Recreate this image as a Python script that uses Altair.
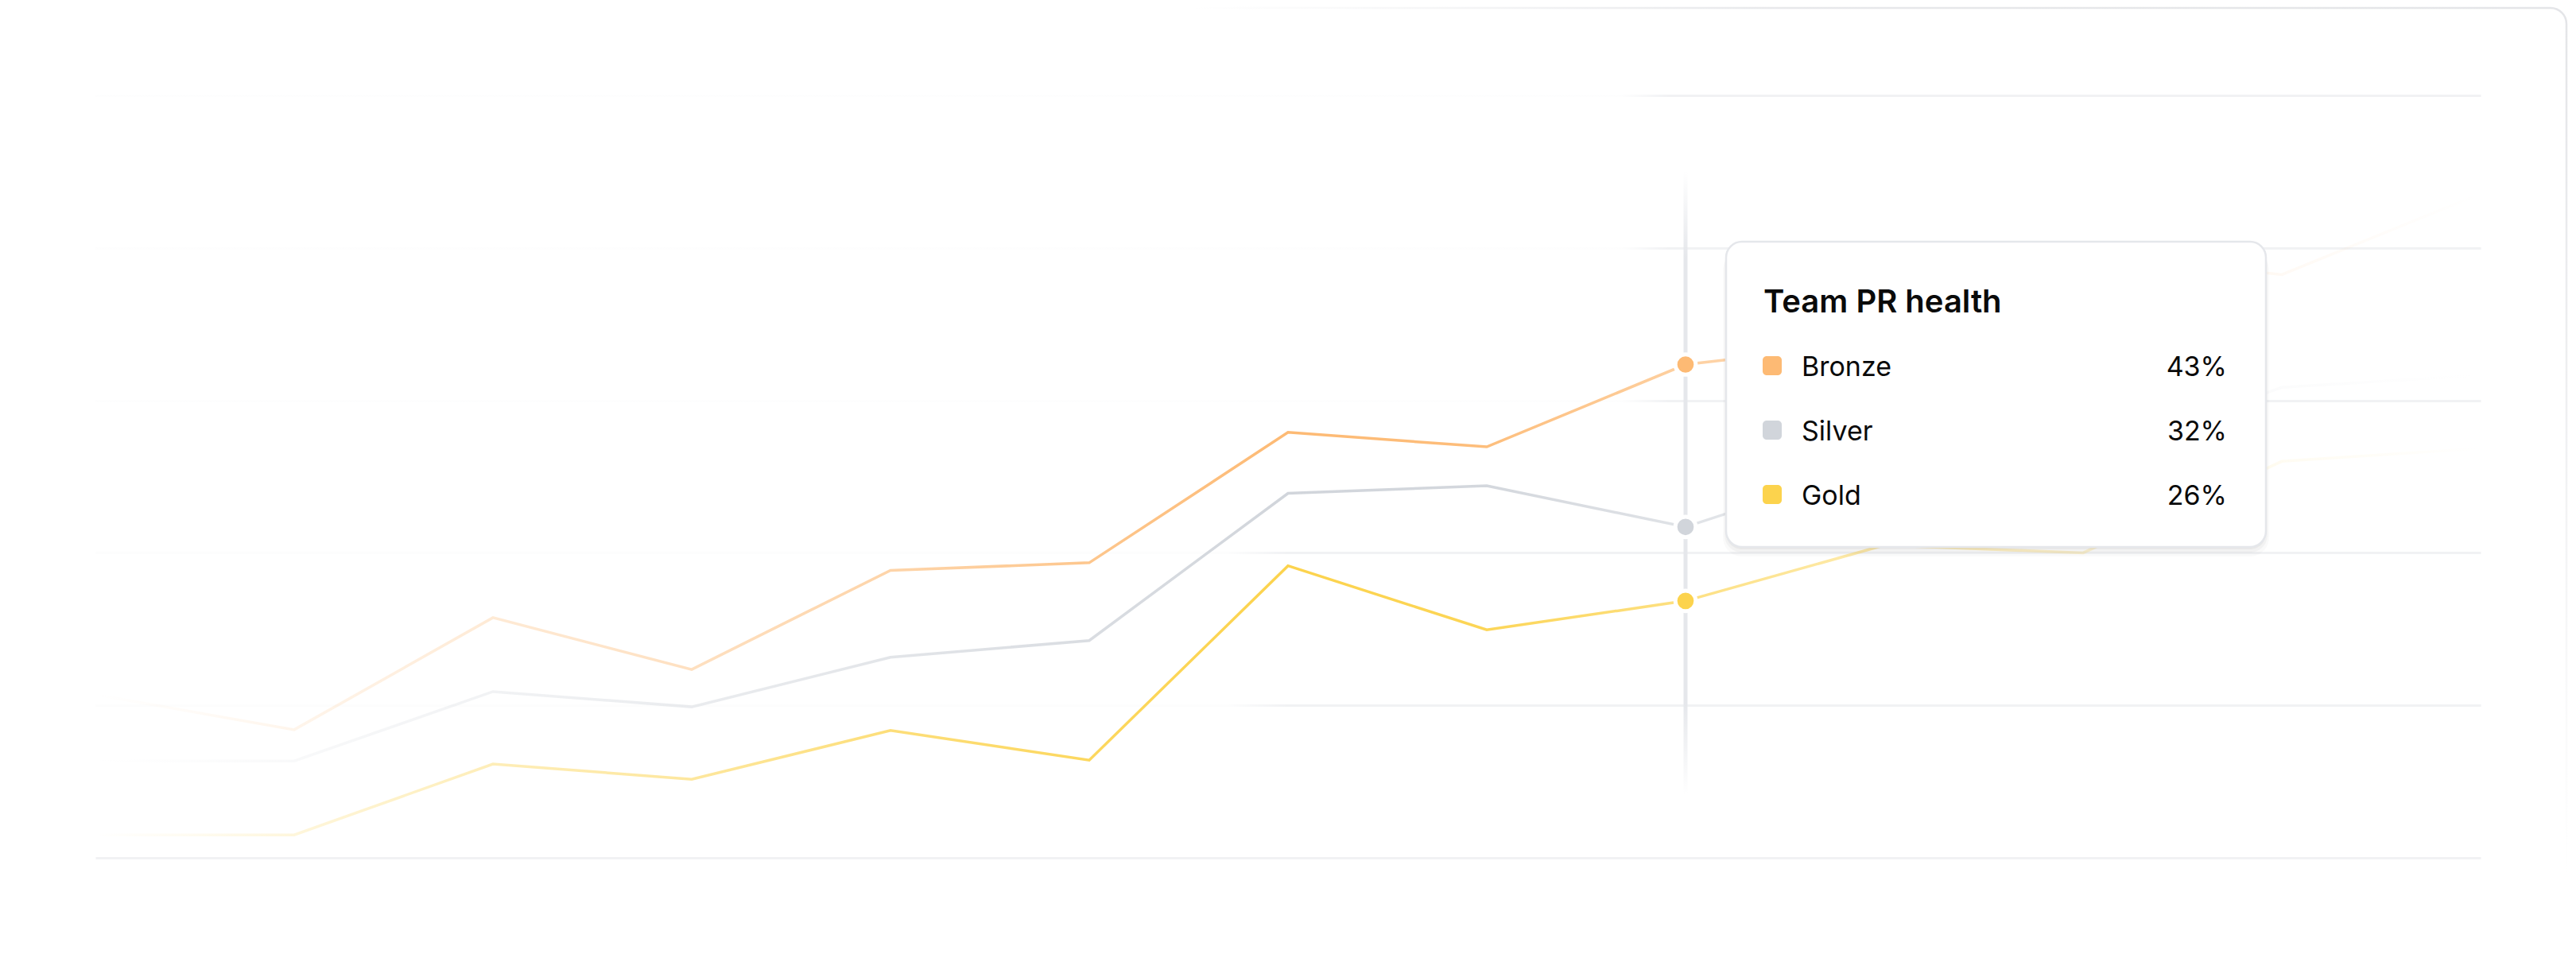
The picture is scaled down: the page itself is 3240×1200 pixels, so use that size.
import altair as alt
import pandas as pd

# ---------------- data ----------------
periods = list(range(13))
series_names = ["Bronze", "Silver", "Gold"]
bronze = [21.4, 16.8, 31.5, 24.7, 37.7, 38.7, 55.8, 53.9, 64.7, 67.7, 79.4, 76.5, 87.1]
silver = [12.7, 12.7, 21.8, 19.8, 26.3, 28.5, 47.8, 48.8, 43.4, 51.9, 52.6, 61.7, 63.3]
gold = [3.0, 3.0, 12.3, 10.3, 16.7, 12.8, 38.3, 29.9, 33.7, 41.0, 40.0, 52.0, 53.7]
series_colors = ["#fdba74", "#d1d5db", "#fcd34d"]
tooltip_title = "Team PR health"
tooltip_pct = ["43%", "32%", "26%"]
hover_index = 8
grid_values = [0, 20, 40, 60, 80, 100]

rows = []
for name, vals in zip(series_names, [bronze, silver, gold]):
    for p, v in zip(periods, vals):
        rows.append({"period": p, "series": name, "value": v})
df = pd.DataFrame(rows)
one = pd.DataFrame({"_": [0]})

W, H = 3000, 959
FONT = "Inter"
INK = "#0a0a0a"


def rgba(hex_color, a):
    r, g, b = int(hex_color[1:3], 16), int(hex_color[3:5], 16), int(hex_color[5:7], 16)
    return f"rgba({r},{g},{b},{a})"


def grad(hex_color, stops, vertical=False):
    return alt.LinearGradient(
        gradient="linear",
        stops=[alt.GradientStop(color=rgba(hex_color, a), offset=o) for o, a in stops],
        x1=0, y1=0, x2=0 if vertical else 1, y2=1 if vertical else 0,
    )


fade_soft = [(0, 0), (0.04, 0.05), (0.083, 0.14), (0.167, 0.3), (0.25, 0.45), (0.333, 0.62),
             (0.417, 0.82), (0.5, 1), (0.58, 0.95), (0.667, 0.68), (0.75, 0.45), (0.833, 0.25),
             (0.92, 0.07), (1, 0)]
fade_strong = [(0, 0), (0.04, 0.08), (0.083, 0.2), (0.167, 0.4), (0.25, 0.55), (0.333, 0.75),
               (0.417, 0.9), (0.5, 1), (0.58, 0.95), (0.667, 0.7), (0.75, 0.45), (0.833, 0.25),
               (0.92, 0.07), (1, 0)]

x_scale = alt.Scale(domain=[0, 12], nice=False, zero=False)
x_enc = alt.X("period:Q", scale=x_scale, axis=None)
y_enc = alt.Y(
    "value:Q",
    scale=alt.Scale(domain=[0, 100], nice=False, zero=True),
    axis=alt.Axis(values=grid_values, grid=True, gridColor="#f1f2f4", gridWidth=3,
                  labels=False, ticks=False, domain=False, title=None),
)

layers = []

# card frame (top edge, corner, right edge)
layers.append(
    alt.Chart(one).mark_rect(
        fill=grad("#e4e5e8", [(0, 0), (0.45, 0.9), (1, 1)])
    ).encode(x=alt.value(1380), x2=alt.value(3088), y=alt.value(-111.25), y2=alt.value(-108.75))
)
layers.append(
    alt.Chart(one).mark_arc(radius=21.25, radius2=18.75, theta=0, theta2=1.5708, color="#e4e5e8")
    .encode(x=alt.value(3088), y=alt.value(-90))
)
layers.append(
    alt.Chart(one).mark_rect(
        fill=grad("#e4e5e8", [(0, 1), (0.45, 0.6), (1, 0)], vertical=True)
    ).encode(x=alt.value(3106.75), x2=alt.value(3109.25), y=alt.value(-90), y2=alt.value(980))
)

# soft white veils fading the grid toward the left
layers.append(
    alt.Chart(one).mark_rect(
        fill=grad("#ffffff", [(0, 0.9), (0.97, 0.9), (1, 0)])
    ).encode(x=alt.value(-20), x2=alt.value(1980), y=alt.value(-30), y2=alt.value(480))
)
layers.append(
    alt.Chart(one).mark_rect(
        fill=grad("#ffffff", [(0, 0.85), (0.95, 0.85), (1, 0)])
    ).encode(x=alt.value(-20), x2=alt.value(1500), y=alt.value(480), y2=alt.value(930))
)

# series lines
for name, col in zip(series_names, series_colors):
    stops = fade_strong if name == "Gold" else fade_soft
    layers.append(
        alt.Chart(df).transform_filter(alt.datum.series == name)
        .mark_line(stroke=grad(col, stops), strokeWidth=3.5, strokeJoin="miter")
        .encode(x=x_enc, y=y_enc)
    )

# crosshair
layers.append(
    alt.Chart(one).mark_rect(
        xOffset=-2.5, x2Offset=2.5,
        fill=grad("#e5e7eb", [(0, 0), (0.14, 1), (0.85, 1), (1, 0)], vertical=True),
    ).encode(x=alt.X(datum=hover_index, scale=x_scale, axis=None),
             x2=alt.X2(datum=hover_index), y=alt.value(95), y2=alt.value(880))
)

# hovered points
layers.append(
    alt.Chart(df).transform_filter(alt.datum.period == hover_index)
    .mark_circle(size=660, stroke="white", strokeWidth=5, opacity=1)
    .encode(x=x_enc, y=y_enc,
            color=alt.Color("series:N", scale=alt.Scale(domain=series_names, range=series_colors),
                            legend=None))
)

# tooltip card
bx1, bx2, by1, by2 = 2051, 2730, 184, 568
for dy, op, grow in [(12, 0.02, 4), (7, 0.03, 2), (3, 0.04, 0)]:
    layers.append(
        alt.Chart(one).mark_rect(fill="#000000", opacity=op, cornerRadius=20 + grow)
        .encode(x=alt.value(bx1 - grow), x2=alt.value(bx2 + grow),
                y=alt.value(by1 + dy), y2=alt.value(by2 + dy))
    )
layers.append(
    alt.Chart(one).mark_rect(fill="white", stroke="#e5e7eb", strokeWidth=2.5, cornerRadius=20)
    .encode(x=alt.value(bx1), x2=alt.value(bx2), y=alt.value(by1), y2=alt.value(by2))
)
layers.append(
    alt.Chart(one).mark_text(align="left", baseline="alphabetic", fontSize=40, fontWeight=600,
                             font=FONT, color=INK)
    .encode(x=alt.value(2098), y=alt.value(273), text=alt.value(tooltip_title))
)
for i, (name, col, pct) in enumerate(zip(series_names, series_colors, tooltip_pct)):
    base = 81 * i
    layers.append(
        alt.Chart(one).mark_rect(cornerRadius=5, color=col)
        .encode(x=alt.value(2097), x2=alt.value(2121), y=alt.value(328 + base), y2=alt.value(352 + base))
    )
    layers.append(
        alt.Chart(one).mark_text(align="left", baseline="alphabetic", fontSize=34, font=FONT, color=INK)
        .encode(x=alt.value(2146), y=alt.value(353 + base), text=alt.value(name))
    )
    layers.append(
        alt.Chart(one).mark_text(align="right", baseline="alphabetic", fontSize=34, font=FONT, color=INK)
        .encode(x=alt.value(2681), y=alt.value(353 + base), text=alt.value(pct))
    )

chart = (
    alt.layer(*layers)
    .properties(width=W, height=H, background="white",
                padding={"left": 112, "top": 112, "right": 110, "bottom": 113},
                autosize=alt.AutoSizeParams(type="none"))
    .configure_view(strokeWidth=0)
    .configure_axis(labels=False, ticks=False, domain=False, title=None)
    .configure_axisX(grid=False)
)

chart.save("out.html", embed_options={"renderer": "svg", "actions": False})
